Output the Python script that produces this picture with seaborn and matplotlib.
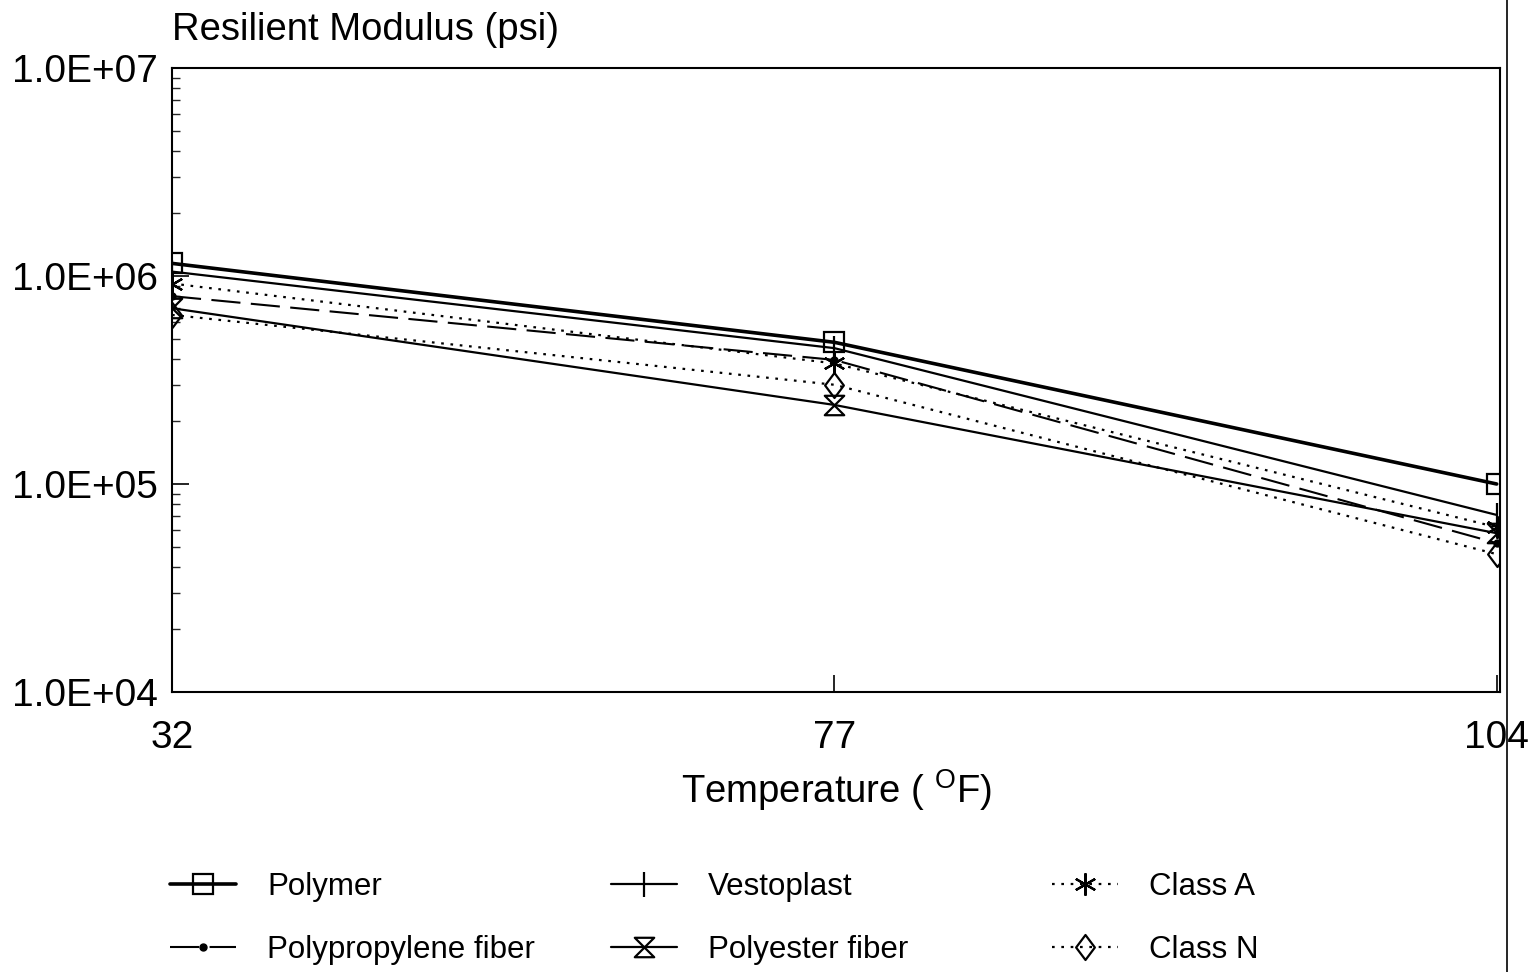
# %% Imports

import matplotlib
matplotlib.use("Agg")
import matplotlib.pyplot as plt
import matplotlib.ticker as mticker
from matplotlib.lines import Line2D
from matplotlib.path import Path
import pandas as pd
import seaborn as sns

# %% Data

temperatures = ["32", "77", "104"]

polymer = [1.15e6, 4.8e5, 1.0e5]
polypropylene = [8.0e5, 3.95e5, 5.2e4]
vestoplast = [1.05e6, 4.5e5, 7.1e4]
polyester = [7.0e5, 2.4e5, 5.8e4]
class_a = [9.2e5, 3.8e5, 6.2e4]
class_n = [6.5e5, 3.0e5, 4.6e4]

series_names = ["Polymer", "Polypropylene fiber", "Vestoplast",
                "Polyester fiber", "Class A", "Class N"]
series_values = [polymer, polypropylene, vestoplast, polyester, class_a, class_n]

# %% Styles

hourglass = Path([(-1, 1), (1, 1), (-1, -1), (1, -1), (-1, 1)],
                 [Path.MOVETO, Path.LINETO, Path.LINETO, Path.LINETO, Path.CLOSEPOLY])
diamond = Path([(0, 1), (0.75, 0), (0, -1), (-0.75, 0), (0, 1)],
               [Path.MOVETO, Path.LINETO, Path.LINETO, Path.LINETO, Path.CLOSEPOLY])

styles = {
    "Polymer": dict(ls="-", lw=2.6, marker="s", ms=14, fillstyle="none", mew=1.6),
    "Polypropylene fiber": dict(ls=(0, (14, 5)), lw=1.5, marker="o", ms=5, mew=1),
    "Vestoplast": dict(ls="-", lw=1.6, marker="|", ms=18, mew=1.6),
    "Polyester fiber": dict(ls="-", lw=1.6, marker=hourglass, ms=14, fillstyle="none", mew=1.6),
    "Class A": dict(ls=(0, (1.2, 3)), lw=1.6, marker=(6, 2, 0), ms=16, mew=1.6),
    "Class N": dict(ls=(0, (1.2, 3)), lw=1.6, marker=diamond, ms=18, fillstyle="none", mew=1.6),
}

# %% Plot

sns.set_theme(style="ticks")
plt.rcParams["font.family"] = ["Liberation Sans", "DejaVu Sans"]
plt.rcParams["text.color"] = "black"
plt.rcParams["axes.labelcolor"] = "black"

fig = plt.figure(figsize=(15.38, 9.72), dpi=100)
ax = fig.add_axes([172 / 1538, 1 - 692 / 972, (1500 - 172) / 1538, (692 - 68) / 972])

for name, values in zip(series_names, series_values):
    df = pd.DataFrame({"Temperature": temperatures, "Modulus": values})
    st = styles[name]
    sns.lineplot(data=df, x="Temperature", y="Modulus", ax=ax, color="black",
                 linestyle=st["ls"], linewidth=st["lw"], marker=st["marker"],
                 markersize=st["ms"], fillstyle=st.get("fillstyle", "full"),
                 markeredgewidth=st["mew"], markeredgecolor="black",
                 label=name, sort=False)

ax.set_yscale("log")
ax.set_ylim(1e4, 1e7)
ax.set_xlim(0, 2.005)
ax.yaxis.set_major_locator(mticker.LogLocator(base=10, numticks=10))
ax.yaxis.set_minor_locator(mticker.LogLocator(base=10, subs=range(2, 10), numticks=20))
ax.yaxis.set_minor_formatter(mticker.NullFormatter())
ax.yaxis.set_major_formatter(mticker.FuncFormatter(lambda v, p: f"{v:.1E}"))

ax.tick_params(axis="both", which="major", direction="in", length=12, width=1.2,
               labelsize=28, colors="black")
ax.tick_params(axis="y", which="minor", direction="in", length=6, width=1)
ax.tick_params(axis="y", pad=10)
ax.tick_params(axis="x", pad=20)

for s in ax.spines.values():
    s.set_color("black")
    s.set_linewidth(1.5)

ax.set_xlabel("Temperature ( $^{\\mathregular{O}}$F)", fontsize=27.5, labelpad=8)
ax.set_ylabel("")
ax.set_title("Resilient Modulus (psi)", loc="left", fontsize=27.5, pad=20)

handles, labels = ax.get_legend_handles_labels()
if ax.get_legend():
    ax.get_legend().remove()

# three legend columns on an even grid, two entries each
col_x = [170, 611, 1052]
for i, x in enumerate(col_x):
    fig.legend(handles[2 * i:2 * i + 2], labels[2 * i:2 * i + 2], loc="upper left",
               bbox_to_anchor=(x / 1538, 1 - 872 / 972), frameon=False, fontsize=22.5,
               handlelength=2.1, handletextpad=1.0, labelspacing=1.05,
               borderpad=0, borderaxespad=0)

# scan edge line on the right
fig.add_artist(Line2D([1507 / 1538, 1507 / 1538], [0, 1], color="black", lw=1.2))

fig.savefig("out.png", dpi=100, facecolor="white")
